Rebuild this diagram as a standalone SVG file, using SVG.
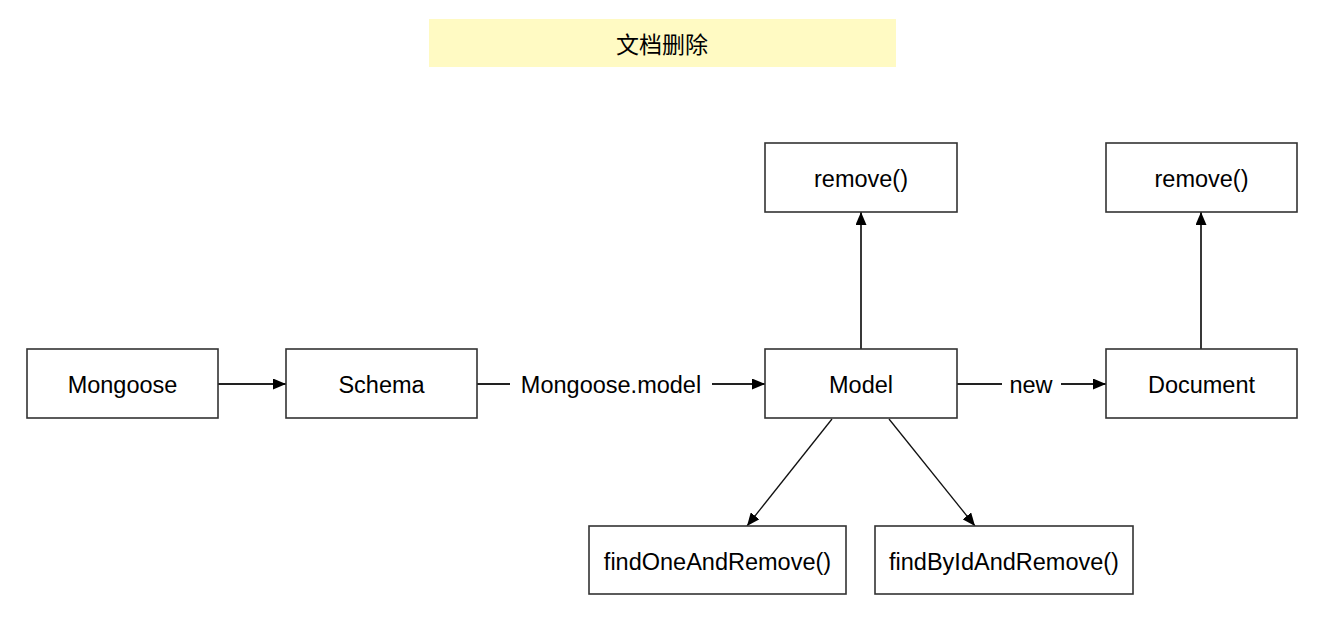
<svg xmlns="http://www.w3.org/2000/svg" width="1330" height="618" viewBox="0 0 1330 618">
<defs>
<marker id="arr" viewBox="0 0 13 11" refX="13" refY="5.5" markerWidth="13" markerHeight="11" markerUnits="userSpaceOnUse" orient="auto">
<path d="M0,0 L13,5.5 L0,11 Z" fill="#000"/>
</marker>
</defs>
<style>
.box{fill:#fff;stroke:#333;stroke-width:1.6}
.t{font-family:"Liberation Sans",Arial,sans-serif;font-size:23.5px;fill:#000;text-anchor:middle;dominant-baseline:central}
.c{stroke:#222;stroke-width:1.8;fill:none;marker-end:url(#arr)}
.cl{stroke:#222;stroke-width:1.8;fill:none}
.d{stroke:#111;stroke-width:1.3;fill:none;marker-end:url(#arr)}
</style>
<rect width="1330" height="618" fill="#fff"/>
<g id="title">
<rect x="429" y="19" width="467" height="48" fill="#fffac3"/>
<text x="662" y="45" class="t" style="font-family:'Liberation Sans','Noto Sans CJK SC',sans-serif;font-size:23px">文档删除</text>
</g>
<g id="connectors">
<line class="c" x1="218" y1="384" x2="286" y2="384"/>
<line class="cl" x1="477" y1="384" x2="510" y2="384"/>
<line class="c" x1="712" y1="384" x2="765" y2="384"/>
<text class="t" x="611" y="385">Mongoose.model</text>
<line class="cl" x1="957" y1="384" x2="1002" y2="384"/>
<line class="c" x1="1061" y1="384" x2="1106" y2="384"/>
<text class="t" x="1031" y="385">new</text>
<line class="c" x1="861" y1="349" x2="861" y2="212"/>
<line class="c" x1="1201" y1="349" x2="1201" y2="212"/>
<line class="d" x1="832" y1="419" x2="747" y2="526"/>
<line class="d" x1="889" y1="419" x2="975" y2="526"/>
</g>
<g id="mongoose"><rect class="box" x="27" y="349" width="191" height="69"/><text class="t" x="122.5" y="385">Mongoose</text></g>
<g id="schema"><rect class="box" x="286" y="349" width="191" height="69"/><text class="t" x="381.5" y="385">Schema</text></g>
<g id="model"><rect class="box" x="765" y="349" width="192" height="69"/><text class="t" x="861" y="385">Model</text></g>
<g id="document"><rect class="box" x="1106" y="349" width="191" height="69"/><text class="t" x="1201.5" y="385">Document</text></g>
<g id="model-remove"><rect class="box" x="765" y="143" width="192" height="69"/><text class="t" x="861" y="179">remove()</text></g>
<g id="document-remove"><rect class="box" x="1106" y="143" width="191" height="69"/><text class="t" x="1201.5" y="179">remove()</text></g>
<g id="findOneAndRemove"><rect class="box" x="589" y="526" width="257" height="68"/><text class="t" x="717.5" y="562">findOneAndRemove()</text></g>
<g id="findByIdAndRemove"><rect class="box" x="875" y="526" width="258" height="68"/><text class="t" x="1004" y="562">findByIdAndRemove()</text></g>
</svg>
